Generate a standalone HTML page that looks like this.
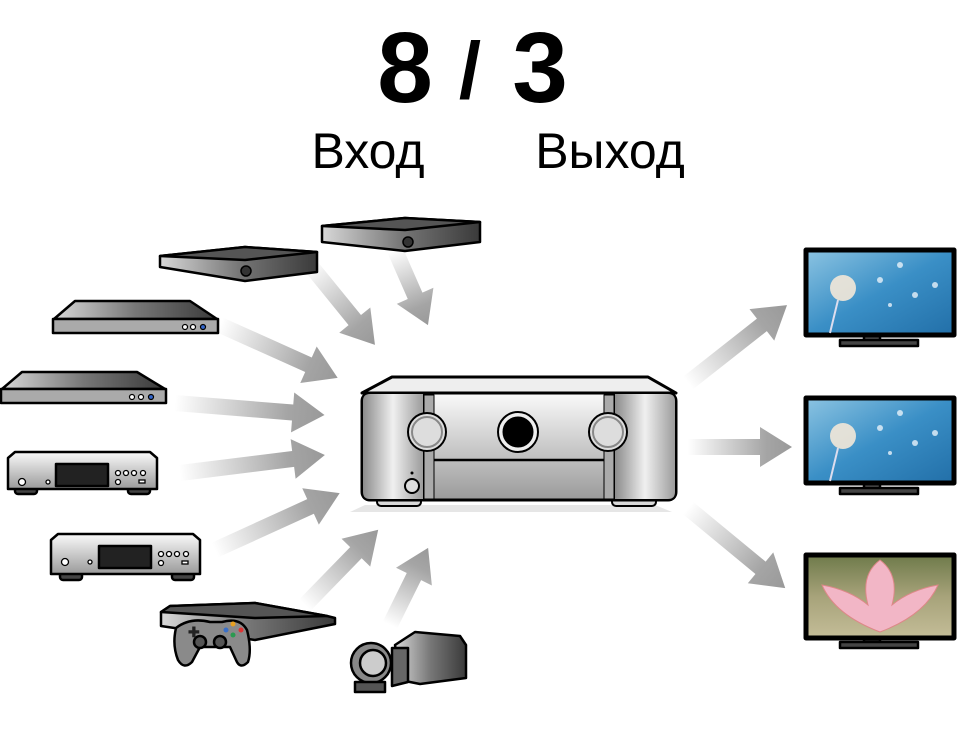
<!DOCTYPE html>
<html><head><meta charset="utf-8"><style>
html,body{margin:0;padding:0;background:#fff;}
svg{display:block;}
</style></head><body>
<svg width="957" height="743" viewBox="0 0 957 743" xmlns="http://www.w3.org/2000/svg">
<defs>
<linearGradient id="ag" x1="0" y1="0" x2="1" y2="0">
<stop offset="0" stop-color="#fff"/><stop offset="0.75" stop-color="#a5a5a5"/><stop offset="1" stop-color="#999"/>
</linearGradient>
<linearGradient id="dk" x1="0" y1="0" x2="1" y2="0">
<stop offset="0" stop-color="#d8d8d8"/><stop offset="0.5" stop-color="#777"/><stop offset="1" stop-color="#3a3a3a"/>
</linearGradient>
<linearGradient id="vt" x1="0" y1="0" x2="0" y2="1">
<stop offset="0" stop-color="#fafafa"/><stop offset="1" stop-color="#9a9a9a"/>
</linearGradient>
<linearGradient id="side" x1="0" y1="0" x2="1" y2="0">
<stop offset="0" stop-color="#888"/><stop offset="0.5" stop-color="#f0f0f0"/><stop offset="1" stop-color="#999"/>
</linearGradient>
<linearGradient id="sky" x1="0" y1="0" x2="1" y2="1">
<stop offset="0" stop-color="#8cc4e2"/><stop offset="0.5" stop-color="#3a8fc6"/><stop offset="1" stop-color="#226fa8"/>
</linearGradient>
<linearGradient id="pink" x1="0" y1="0" x2="0" y2="1">
<stop offset="0" stop-color="#6e7a4a"/><stop offset="0.5" stop-color="#a7a37a"/><stop offset="1" stop-color="#c4bd98"/>
</linearGradient>
</defs>

<!-- Title -->
<text x="405" y="102" font-family="'Liberation Sans Narrow','Liberation Sans',sans-serif" font-weight="bold" font-size="100" text-anchor="middle">8</text>
<text x="470" y="98" font-family="'Liberation Sans Narrow','Liberation Sans',sans-serif" font-weight="bold" font-size="80" text-anchor="middle">/</text>
<text x="540" y="102" font-family="'Liberation Sans Narrow','Liberation Sans',sans-serif" font-weight="bold" font-size="100" text-anchor="middle">3</text>
<text x="368" y="168" font-family="'Liberation Sans',sans-serif" font-size="50" text-anchor="middle">Вход</text>
<text x="610" y="168" font-family="'Liberation Sans',sans-serif" font-size="50" text-anchor="middle">Выход</text>

<!-- Arrows -->
<g fill="url(#ag)">
<path transform="translate(310,265) rotate(50.9)" d="M0,-8 L71,-8 L71,-20 L103,0 L71,20 L71,8 L0,8Z"/>
<path transform="translate(395,250) rotate(66.3)" d="M0,-8 L50,-8 L50,-20 L82,0 L50,20 L50,8 L0,8Z"/>
<path transform="translate(220,325) rotate(24.2)" d="M0,-8 L97,-8 L97,-20 L129,0 L97,20 L97,8 L0,8Z"/>
<path transform="translate(175,403) rotate(4.6)" d="M0,-8 L118,-8 L118,-20 L150,0 L118,20 L118,8 L0,8Z"/>
<path transform="translate(180,473) rotate(-7.1)" d="M0,-8 L114,-8 L114,-20 L146,0 L114,20 L114,8 L0,8Z"/>
<path transform="translate(215,550) rotate(-24.5)" d="M0,-8 L105,-8 L105,-20 L137,0 L105,20 L105,8 L0,8Z"/>
<path transform="translate(305,605) rotate(-45.8)" d="M0,-8 L73,-8 L73,-20 L105,0 L73,20 L73,8 L0,8Z"/>
<path transform="translate(390,625) rotate(-63.7)" d="M0,-8 L54,-8 L54,-20 L86,0 L54,20 L54,8 L0,8Z"/>
<path transform="translate(688,383) rotate(-38.2)" d="M0,-8 L94,-8 L94,-20 L126,0 L94,20 L94,8 L0,8Z"/>
<path transform="translate(688,447) rotate(0)" d="M0,-8 L72,-8 L72,-20 L104,0 L72,20 L72,8 L0,8Z"/>
<path transform="translate(688,508) rotate(39.5)" d="M0,-8 L94,-8 L94,-20 L126,0 L94,20 L94,8 L0,8Z"/>
</g>

<!-- Set-top boxes -->
<g stroke="#000" stroke-width="2.5" stroke-linejoin="round">
<path d="M322,226 L405,218 L480,222 L480,242 L405,251 L322,242Z" fill="url(#dk)"/>
<path d="M322,226 L405,218 L480,222 L405,230Z" fill="#555"/>
<circle cx="408" cy="242" r="5" fill="#333" stroke-width="1.5"/>
<path d="M160,256 L245,247 L317,252 L317,272 L245,281 L160,267Z" fill="url(#dk)"/>
<path d="M160,256 L245,247 L317,252 L245,260Z" fill="#555"/>
<circle cx="246" cy="271" r="5" fill="#333" stroke-width="1.5"/>
</g>

<!-- Blu-ray players -->
<g stroke="#000" stroke-width="2.5" stroke-linejoin="round">
<path d="M54,319 L75,301 L190,301 L217,319Z" fill="url(#dk)"/>
<rect x="53" y="319" width="165" height="14" fill="#aaa"/>
<path d="M2,389 L22,372 L137,372 L165,389Z" fill="url(#dk)"/>
<rect x="1" y="389" width="165" height="14" fill="#aaa"/>
</g>
<g fill="#fff" stroke="#000" stroke-width="1.2">
<circle cx="185" cy="327" r="2.5"/><circle cx="193" cy="327" r="2.5"/><circle cx="203" cy="327" r="2.5" fill="#36c"/>
<circle cx="132" cy="397" r="2.5"/><circle cx="141" cy="397" r="2.5"/><circle cx="151" cy="397" r="2.5" fill="#36c"/>
</g>

<!-- CD players -->
<g stroke="#000" stroke-width="2.5" stroke-linejoin="round">
<rect x="15" y="486" width="22" height="8" rx="3" fill="#444"/><rect x="128" y="486" width="22" height="8" rx="3" fill="#444"/>
<path d="M8,458 L15,452 L150,452 L157,458 L157,489 L8,489Z" fill="url(#vt)"/>
<rect x="56" y="464" width="52" height="22" fill="#222"/>
<rect x="60" y="572" width="22" height="8" rx="3" fill="#444"/><rect x="172" y="572" width="22" height="8" rx="3" fill="#444"/>
<path d="M51,540 L58,534 L193,534 L200,540 L200,574 L51,574Z" fill="url(#vt)"/>
<rect x="99" y="546" width="52" height="22" fill="#222"/>
</g>
<g fill="#fff" stroke="#000" stroke-width="1.3">
<circle cx="22" cy="482" r="3.5"/><circle cx="48" cy="482" r="2"/>
<circle cx="118" cy="473" r="2.5"/><circle cx="126" cy="473" r="2.5"/><circle cx="134" cy="473" r="2.5"/><circle cx="143" cy="473" r="2.5"/><circle cx="118" cy="482" r="2.5"/>
<rect x="139" y="480" width="6" height="3"/>
<circle cx="65" cy="562" r="3.5"/><circle cx="90" cy="562" r="2"/>
<circle cx="161" cy="554" r="2.5"/><circle cx="169" cy="554" r="2.5"/><circle cx="177" cy="554" r="2.5"/><circle cx="186" cy="554" r="2.5"/><circle cx="161" cy="563" r="2.5"/>
<rect x="182" y="561" width="6" height="3"/>
</g>

<!-- Game console -->
<g stroke="#000" stroke-width="2.5" stroke-linejoin="round">
<path d="M161,612 L170,606 L255,603 L327,616 L335,618 L335,624 L255,640 L161,626Z" fill="url(#dk)"/>
<path d="M161,612 L170,606 L255,603 L327,616 L255,618Z" fill="#555"/>
<path d="M176,628 Q190,617 210,622 L222,622 Q240,617 247,630 Q252,650 248,662 Q240,670 236,660 L230,647 L200,647 L192,662 Q184,670 178,660 Q172,645 176,628Z" fill="#8a8a8a"/>
<circle cx="200" cy="642" r="6" fill="#555"/><circle cx="220" cy="642" r="6" fill="#555"/>
</g>
<circle cx="233" cy="624" r="2.5" fill="#e8a020"/><circle cx="226" cy="630" r="2.5" fill="#3a70c8"/><circle cx="241" cy="630" r="2.5" fill="#d33"/><circle cx="233" cy="635" r="2.5" fill="#2a9a50"/>
<text x="188" y="637" font-size="14" font-family="'Liberation Sans',sans-serif" fill="#222" font-weight="bold">✚</text>

<!-- Camcorder -->
<g stroke="#000" stroke-width="2.5" stroke-linejoin="round">
<path d="M395,645 L415,632 L460,636 L466,645 L466,678 L420,684 L400,680Z" fill="url(#dk)"/>
<circle cx="371" cy="663" r="20" fill="#888"/>
<circle cx="373" cy="663" r="13" fill="#ccc"/>
<path d="M392,648 L408,648 L408,682 L392,686Z" fill="#666"/>
<rect x="355" y="682" width="30" height="10" fill="#555"/>
</g>

<!-- Receiver -->
<g stroke="#000" stroke-linejoin="round">
<path d="M365,505 L655,505 L672,512 L350,512Z" fill="#e6e6e6" stroke="none"/>
<rect x="377" y="496" width="44" height="10" rx="4" fill="#d8d8d8" stroke-width="2"/>
<rect x="612" y="496" width="44" height="10" rx="4" fill="#d8d8d8" stroke-width="2"/>
<path d="M362,393 L392,377 L648,377 L676,393Z" fill="#eee" stroke-width="3"/>
<rect x="362" y="393" width="314" height="107" rx="8" fill="url(#vt)" stroke-width="3"/>
<path d="M362,401 Q362,393 370,393 L424,393 L424,500 L370,500 Q362,500 362,492Z" fill="url(#side)" stroke-width="2"/>
<path d="M614,393 L668,393 Q676,393 676,401 L676,492 Q676,500 668,500 L614,500Z" fill="url(#side)" stroke-width="2"/>
<rect x="424" y="395" width="10" height="104" fill="#aaa" stroke-width="1"/>
<rect x="604" y="395" width="10" height="104" fill="#aaa" stroke-width="1"/>
<line x1="434" y1="460" x2="604" y2="460" stroke-width="2.5"/>
<circle cx="427" cy="432" r="19" fill="#ddd" stroke-width="2"/>
<circle cx="427" cy="432" r="15" fill="none" stroke="#888" stroke-width="2"/>
<circle cx="608" cy="432" r="19" fill="#ddd" stroke-width="2"/>
<circle cx="608" cy="432" r="15" fill="none" stroke="#888" stroke-width="2"/>
<circle cx="518" cy="432" r="20" fill="#eee" stroke-width="2"/>
<circle cx="518" cy="432" r="15" fill="#000"/>
<circle cx="412" cy="486" r="7" fill="#ddd" stroke-width="2"/>
<circle cx="412" cy="473" r="1" fill="#000"/>
</g>

<!-- TVs -->
<g stroke="#000" stroke-width="2.5" stroke-linejoin="round">
<rect x="864" y="333" width="16" height="10" fill="#555"/>
<rect x="840" y="340" width="78" height="6" fill="#444"/>
<rect x="806" y="250" width="148" height="85" fill="url(#sky)" stroke-width="5"/>
<rect x="864" y="482" width="16" height="10" fill="#555"/>
<rect x="840" y="488" width="78" height="6" fill="#444"/>
<rect x="806" y="398" width="148" height="85" fill="url(#sky)" stroke-width="5"/>
<rect x="864" y="636" width="16" height="8" fill="#555"/>
<rect x="840" y="642" width="78" height="6" fill="#444"/>
<rect x="806" y="555" width="148" height="83" fill="url(#pink)" stroke-width="5"/>
</g>
<g fill="#f3e8d8">
<circle cx="843" cy="288" r="13" opacity="0.9"/><line x1="838" y1="300" x2="830" y2="333" stroke="#dde" stroke-width="2"/>
<circle cx="843" cy="436" r="13" opacity="0.9"/><line x1="838" y1="448" x2="830" y2="481" stroke="#dde" stroke-width="2"/>
<g fill="#e8f2fa" opacity="0.8">
<circle cx="880" cy="280" r="3"/><circle cx="900" cy="265" r="3"/><circle cx="915" cy="295" r="3"/><circle cx="935" cy="285" r="3"/><circle cx="890" cy="305" r="2"/>
<circle cx="880" cy="428" r="3"/><circle cx="900" cy="413" r="3"/><circle cx="915" cy="443" r="3"/><circle cx="935" cy="433" r="3"/><circle cx="890" cy="453" r="2"/>
</g>
</g>
<path d="M880,632 Q835,615 822,585 Q850,590 868,605 Q860,575 880,560 Q900,575 892,605 Q910,590 938,585 Q925,615 880,632Z" fill="#f2b6c6" stroke="#d88" stroke-width="1"/>
</svg>
</body></html>
